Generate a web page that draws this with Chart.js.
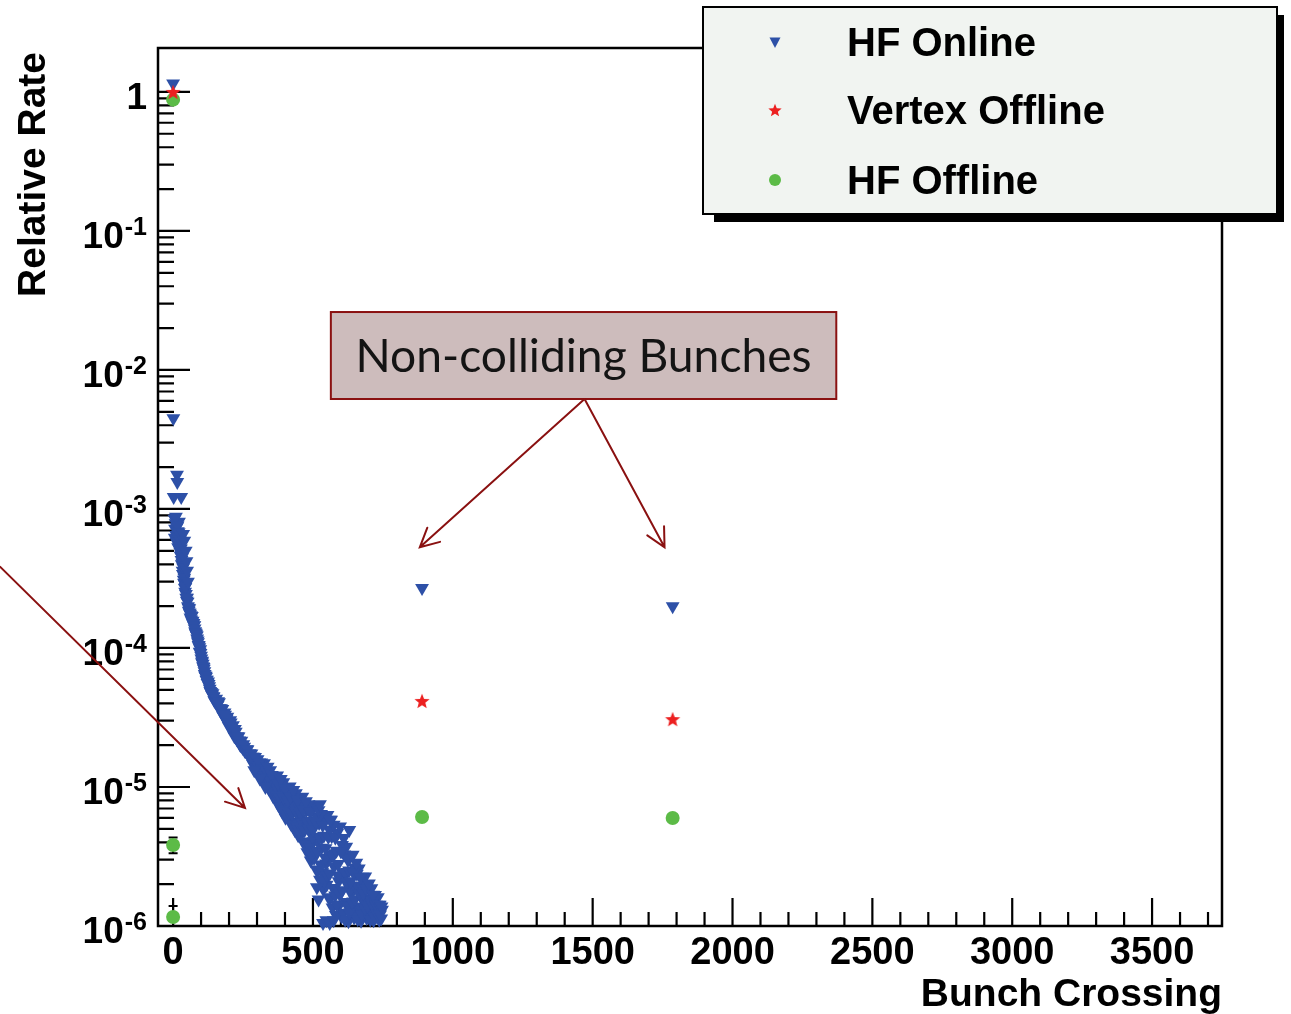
<!DOCTYPE html>
<html>
<head>
<meta charset="utf-8">
<script src="https://cdn.jsdelivr.net/npm/chart.js@4/dist/chart.umd.min.js"></script>
<style>
  html, body { margin: 0; padding: 0; background: #fff; }
  #wrap { width: 1291px; height: 1014px; }
  canvas { display: block; }
</style>
</head>
<body>
<div id="wrap"><canvas id="chart" width="1291" height="1014" style="width:1291px;height:1014px"></canvas></div>
<script>
// ---- axis ranges and tick labels ----
const xRange = [-54, 3750];
const yRange = [1e-6, 2.07];
const xMajorTicks = [0, 500, 1000, 1500, 2000, 2500, 3000, 3500];
const xTickLabels = ['0', '500', '1000', '1500', '2000', '2500', '3000', '3500'];
const xMinorTicks = [100,200,300,400,600,700,800,900,1100,1200,1300,1400,1600,1700,1800,1900,
                     2100,2200,2300,2400,2600,2700,2800,2900,3100,3200,3300,3400,3600,3700];
const yDecades = [1e-6, 1e-5, 1e-4, 1e-3, 1e-2, 1e-1, 1];
const yTickExponents = ['-6', '-5', '-4', '-3', '-2', '-1', null];
const xTitle = 'Bunch Crossing';
const yTitle = 'Relative Rate';
const seriesNames = ['HF Online', 'Vertex Offline', 'HF Offline'];

// ---- series: [bunch crossing, relative rate] ----
const hfOnline = [
  [0,1.15],[1,4.5e-3],[2,1.22e-3],[14,1.76e-3],[15,1.56e-3],[21,8.1e-4],[29,1.22e-3],
  [5,8.5e-4],[7,7.2e-4],[9,7.9e-4],[11,6.5e-4],[13,7.4e-4],[15,6.2e-4],[17,6.9e-4],[19,5.6e-4],
  [21,6.2e-4],[23,5.1e-4],[25,5.5e-4],[27,4.6e-4],[29,4.7e-4],[31,4.0e-4],[33,4.1e-4],[35,3.4e-4],
  [37,3.4e-4],[39,2.95e-4],[41,2.9e-4],[43,2.54e-4],[46,2.45e-4],[49,2.19e-4],[52,2.15e-4],
  [55,1.95e-4],[58,1.93e-4],[61,1.76e-4],[64,1.72e-4],[67,1.70e-4],[70,1.57e-4],[73,1.51e-4],
  [76,1.46e-4],[79,1.32e-4],[82,1.27e-4],[85,1.23e-4],[88,1.13e-4],[91,1.05e-4],[94,1.01e-4],
  [97,9.8e-5],[100,8.8e-5],[103,7.9e-5],[106,7.7e-5],[109,7.3e-5],[112,6.8e-5],[115,6.3e-5],
  [118,6.2e-5],[121,5.9e-5],[125,5.75e-5],[129,5.3e-5],[133,4.9e-5],[137,4.8e-5],[141,4.73e-5],
  [145,4.47e-5],[149,4.27e-5],
  [6,6.2e-4],[10,8.8e-4],[12,5.8e-4],[16,7.6e-4],[18,5.3e-4],[20,6.8e-4],[22,5.5e-4],[24,6.0e-4],
  [26,4.9e-4],[28,5.2e-4],[30,4.3e-4],[32,4.5e-4],[34,3.6e-4],[36,3.8e-4],[38,3.1e-4],[40,3.2e-4],
  [42,2.7e-4],[44,2.75e-4],[47,2.3e-4],[50,2.3e-4],[53,2.0e-4],[56,1.85e-4],[59,1.80e-4],[62,1.66e-4],
  [65,1.60e-4],[68,1.55e-4],[71,1.50e-4],[74,1.45e-4],[77,1.38e-4],[80,1.29e-4],[83,1.25e-4],
  [86,1.17e-4],[89,1.10e-4],[92,1.04e-4],[95,9.4e-5],[98,9.2e-5],[101,8.4e-5],[104,8.1e-5],
  [107,7.4e-5],[110,7.1e-5],[113,6.5e-5],[116,6.3e-5],[119,5.9e-5],[123,5.6e-5],[127,5.5e-5],
  [131,5.1e-5],[135,4.8e-5],[139,4.6e-5],[143,4.5e-5],[147,4.2e-5],[151,4.1e-5],
  [36,6.6e-4],[40,5.9e-4],[45,5.0e-4],[48,4.2e-4],[50,3.6e-4],[53,3.0e-4],
  [154,4.32e-5],[159,3.89e-5],[164,4.07e-5],[169,3.55e-5],[174,3.63e-5],[179,3.25e-5],[184,3.43e-5],
  [189,3.02e-5],[194,3.20e-5],[199,2.74e-5],[204,3.02e-5],[209,2.58e-5],[214,2.78e-5],[219,2.32e-5],
  [224,2.50e-5],[229,2.19e-5],[234,2.31e-5],[239,2.03e-5],[244,2.15e-5],[249,1.91e-5],[254,1.95e-5],
  [259,1.81e-5],[264,1.87e-5],[269,1.69e-5],[274,1.75e-5],
  [156,4.08e-5],[161,4.14e-5],[166,3.68e-5],[171,3.69e-5],[176,3.64e-5],[181,3.26e-5],[186,3.31e-5],
  [191,3.09e-5],[196,2.88e-5],[201,2.82e-5],[206,2.91e-5],[211,2.52e-5],[216,2.59e-5],[221,2.61e-5],
  [226,2.25e-5],[231,2.32e-5],[236,2.16e-5],[241,2.00e-5],[246,1.98e-5],[251,2.03e-5],[256,1.82e-5],
  [261,1.85e-5],[266,1.86e-5],[271,1.69e-5],[276,1.73e-5],
  [280,1.74e-5],[285,1.47e-5],[290,1.55e-5],[295,1.57e-5],[300,1.37e-5],[305,1.46e-5],[310,1.22e-5],
  [315,1.50e-5],[320,1.28e-5],[325,1.48e-5],[330,1.08e-5],[335,1.23e-5],[340,1.30e-5],[345,1.04e-5],
  [350,1.16e-5],[357,8.6e-6],[362,1.20e-5],[367,9.4e-6],[372,1.21e-5],[377,7.4e-6],[382,9.2e-6],
  [387,1.03e-5],[392,7.4e-6],[397,9.0e-6],[402,6.0e-6],[407,9.9e-6],[412,7.1e-6],[417,1.01e-5],
  [422,5.4e-6],[427,7.2e-6],[432,8.4e-6],[437,5.6e-6],[442,7.2e-6],[447,4.5e-6],[452,8.3e-6],
  [457,5.6e-6],[462,8.5e-6],[467,3.95e-6],[472,5.7e-6],[477,6.8e-6],[482,4.06e-6],[487,5.7e-6],
  [492,2.96e-6],[497,6.9e-6],[502,4.07e-6],[507,7.4e-6],[512,2.55e-6],[517,4.28e-6],[522,5.5e-6],
  [527,2.77e-6],[532,4.35e-6],[537,1.84e-6],[542,5.7e-6],[547,2.82e-6],[552,6.3e-6],[557,1.59e-6],
  [562,3.15e-6],[567,4.42e-6],[572,1.88e-6],[577,3.34e-6],[582,1.20e-6],[587,4.68e-6],[592,2.10e-6],
  [597,5.2e-6],[602,1.17e-6],[607,2.40e-6],[612,3.27e-6],[617,1.49e-6],[622,2.45e-6],[627,1.08e-6],
  [630,4.9e-6],[632,3.13e-6],[637,1.71e-6],[642,3.25e-6],[647,1.15e-6],[652,1.91e-6],[657,2.38e-6],
  [662,1.38e-6],[667,1.95e-6],[672,1.09e-6],[677,2.26e-6],[682,1.49e-6],[687,2.27e-6],[692,1.14e-6],
  [697,1.57e-6],[702,1.79e-6],[707,1.27e-6],[712,1.56e-6],[717,1.10e-6],[722,1.67e-6],[727,1.30e-6],
  [732,1.61e-6],[737,1.11e-6],[742,1.28e-6],[747,1.31e-6],
  [282,1.56e-5],[287,1.65e-5],[292,1.41e-5],[297,1.50e-5],[302,1.58e-5],[307,1.31e-5],[312,1.44e-5],
  [317,1.32e-5],[322,1.18e-5],[327,1.19e-5],[332,1.37e-5],[337,1.04e-5],[342,1.20e-5],[347,1.32e-5],
  [352,9.6e-6],[359,1.12e-5],[364,9.8e-6],[369,8.3e-6],[374,8.6e-6],[379,1.09e-5],[384,7.2e-6],
  [389,9.1e-6],[394,1.08e-5],[399,6.9e-6],[404,8.9e-6],[409,7.5e-6],[414,6.0e-6],[419,6.4e-6],
  [424,8.9e-6],[429,5.35e-6],[434,7.2e-6],[439,9.0e-6],[444,5.2e-6],[449,7.3e-6],[454,5.9e-6],
  [459,4.6e-6],[464,4.9e-6],[469,7.3e-6],[474,3.84e-6],[479,5.65e-6],[484,7.5e-6],[489,3.68e-6],
  [494,5.7e-6],[499,4.38e-6],[504,3.09e-6],[509,3.45e-6],[514,6.1e-6],[519,2.51e-6],[524,4.32e-6],
  [529,6.4e-6],[534,2.44e-6],[539,4.45e-6],[544,3.10e-6],[549,1.98e-6],[554,2.33e-6],[559,4.92e-6],
  [564,1.61e-6],[569,3.24e-6],[574,5.36e-6],[579,1.66e-6],[584,3.48e-6],[589,2.31e-6],[594,1.41e-6],
  [599,1.73e-6],[604,3.82e-6],[609,1.24e-6],[614,2.44e-6],[619,3.72e-6],[624,1.38e-6],[629,2.51e-6],
  [634,1.83e-6],[639,1.29e-6],[644,1.50e-6],[649,2.63e-6],[654,1.21e-6],[659,1.94e-6],[664,2.59e-6],
  [669,1.30e-6],[674,1.95e-6],[679,1.56e-6],[684,1.23e-6],[689,1.36e-6],[694,1.94e-6],[699,1.17e-6],
  [704,1.57e-6],[709,1.87e-6],[714,1.22e-6],[719,1.55e-6],[724,1.35e-6],[729,1.17e-6],[734,1.22e-6],
  [739,1.42e-6],[744,1.13e-6],
  [283,1.65e-5],[288,1.51e-5],[293,1.64e-5],[298,1.33e-5],[303,1.43e-5],[308,1.50e-5],[313,1.24e-5],
  [318,1.36e-5],[323,1.21e-5],[328,1.36e-5],[333,1.17e-5],[338,1.40e-5],[343,9.7e-6],[348,1.11e-5],
  [353,1.22e-5],[360,8.8e-6],[365,1.03e-5],[370,8.7e-6],[375,1.06e-5],[380,8.45e-6],[385,1.14e-5],
  [390,6.7e-6],[395,8.4e-6],[400,9.8e-6],[405,6.3e-6],[410,8.0e-6],[415,6.5e-6],[420,8.5e-6],
  [425,6.4e-6],[430,9.5e-6],[435,4.9e-6],[440,6.6e-6],[445,8.05e-6],[450,4.82e-6],[455,6.5e-6],
  [460,4.99e-6],[465,6.9e-6],[470,4.88e-6],[475,7.9e-6],[480,3.39e-6],[485,4.99e-6],[490,6.6e-6],
  [495,3.27e-6],[500,4.93e-6],[505,3.48e-6],[510,5.6e-6],[515,3.46e-6],[520,6.8e-6],[525,2.15e-6],
  [530,3.66e-6],[535,5.3e-6],[540,2.09e-6],[545,3.63e-6],[550,2.32e-6],[555,4.36e-6],[560,2.39e-6],
  [565,5.8e-6],[570,1.36e-6],[575,2.69e-6],[580,4.31e-6],[585,1.43e-6],[590,2.79e-6],[595,1.70e-6],
  [600,3.43e-6],[605,1.81e-6],[610,4.29e-6],[615,1.11e-6],[620,2.04e-6],[625,2.99e-6],[630,1.25e-6],
  [635,2.10e-6],[640,1.48e-6],[645,2.42e-6],[650,1.56e-6],[655,2.85e-6],[660,1.12e-6],[665,1.72e-6],
  [670,2.23e-6],[675,1.21e-6],[680,1.72e-6],[685,1.35e-6],[690,1.86e-6],[695,1.39e-6],[700,2.02e-6],
  [705,1.11e-6],[710,1.45e-6],[715,1.68e-6],[720,1.16e-6],[725,1.42e-6],[730,1.22e-6],[735,1.42e-6],
  [740,1.21e-6],[745,1.38e-6],
  [514,1.9e-6],[520,1.55e-6],[536,1.05e-6],[548,1.1e-6],[560,1.05e-6],[574,1.1e-6],
  [525,7.5e-6],[561,5.8e-6],[290,1.32e-5],[310,1.15e-5],[330,1.0e-5],
  [890,2.70e-4],[1786,2.0e-4]
];
const vertexOffline = [[0,1.0],[890,4.16e-5],[1786,3.08e-5]];
const hfOffline = [[0,0.88],[0,3.83e-6],[0,1.16e-6],[890,6.09e-6],[1786,5.98e-6]];
const hfOfflineErr = [0, 0.5e-6, 0.23e-6, 0, 0];

// ---- callout in data units ----
const calloutText = 'Non-colliding Bunches';
const calloutBox = { x0: 564, x1: 2371, yTop: 0.0261, yBottom: 6.18e-3 };
const calloutArrows = [
  { from: [1471, 6.18e-3], to: [882, 5.3e-4] },
  { from: [1471, 6.18e-3], to: [1757, 5.3e-4] },
  { from: [-618, 3.83e-4], to: [257, 7.06e-6] }
];

const BLUE = '#2d50a7', RED = '#ec2020', GREEN = '#5cbb47', DARKRED = '#8a1111';
const BOLD = 'bold %spx "Liberation Sans", Arial, Helvetica, sans-serif';
const font = (s) => BOLD.replace('%s', s);

function makeStar(r, color) {
  const s = Math.ceil(r * 2 + 2);
  const c = document.createElement('canvas');
  c.width = s; c.height = s;
  const g = c.getContext('2d');
  g.fillStyle = color;
  g.beginPath();
  for (let i = 0; i < 10; i++) {
    const rad = i % 2 === 0 ? r : r * 0.43;
    const ang = -Math.PI / 2 + i * Math.PI / 5;
    const px = s / 2 + rad * Math.cos(ang), py = s / 2 + rad * Math.sin(ang) + r * 0.1;
    if (i === 0) g.moveTo(px, py); else g.lineTo(px, py);
  }
  g.closePath();
  g.fill();
  return c;
}
const starMark = makeStar(8, RED);
const starLegend = makeStar(7, RED);

const toXY = (arr) => arr.map(([x, y]) => ({ x, y }));

function drawArrow(ctx, x0, y0, x1, y1) {
  const ang = Math.atan2(y0 - y1, x0 - x1);
  const L = 21, spread = 27 * Math.PI / 180;
  ctx.beginPath();
  ctx.moveTo(x0, y0); ctx.lineTo(x1, y1);
  ctx.moveTo(x1 + L * Math.cos(ang - spread), y1 + L * Math.sin(ang - spread));
  ctx.lineTo(x1, y1);
  ctx.lineTo(x1 + L * Math.cos(ang + spread), y1 + L * Math.sin(ang + spread));
  ctx.stroke();
}

const axisPainter = {
  id: 'axisPainter',
  beforeDatasetsDraw(chart) {
    const { ctx, chartArea: a, scales: { x, y } } = chart;
    ctx.save();
    ctx.strokeStyle = '#000';
    ctx.lineWidth = 2.5;
    ctx.strokeRect(a.left, a.top, a.right - a.left, a.bottom - a.top);
    ctx.lineWidth = 2.2;
    ctx.beginPath();
    yDecades.forEach((d) => {
      const py = y.getPixelForValue(d);
      ctx.moveTo(a.left, py); ctx.lineTo(a.left + 32, py);
      if (d < 1) {
        for (let k = 2; k <= 9; k++) {
          const p = y.getPixelForValue(d * k);
          ctx.moveTo(a.left, p); ctx.lineTo(a.left + 16, p);
        }
      }
    });
    xMajorTicks.forEach((v) => {
      const px = x.getPixelForValue(v);
      ctx.moveTo(px, a.bottom); ctx.lineTo(px, a.bottom - 28);
    });
    xMinorTicks.forEach((v) => {
      const px = x.getPixelForValue(v);
      ctx.moveTo(px, a.bottom); ctx.lineTo(px, a.bottom - 14);
    });
    ctx.stroke();
    // error bars of the HF Offline points
    ctx.lineWidth = 2;
    ctx.beginPath();
    hfOffline.forEach(([bx, v], i) => {
      const e = hfOfflineErr[i];
      if (!e) return;
      const px = x.getPixelForValue(bx);
      const top = y.getPixelForValue(v + e);
      const bot = Math.min(a.bottom, y.getPixelForValue(Math.max(v - e, yRange[0])));
      ctx.moveTo(px, top); ctx.lineTo(px, bot);
      ctx.moveTo(px - 4.5, top); ctx.lineTo(px + 4.5, top);
      if (v - e > yRange[0]) { ctx.moveTo(px - 4.5, bot); ctx.lineTo(px + 4.5, bot); }
    });
    ctx.stroke();
    ctx.restore();
  },
  afterDatasetsDraw(chart) {
    const { ctx, chartArea: a, scales: { x, y } } = chart;
    ctx.save();
    ctx.fillStyle = '#000';
    // x tick labels
    ctx.font = font(38);
    ctx.textAlign = 'center';
    ctx.textBaseline = 'alphabetic';
    xMajorTicks.forEach((v, i) => ctx.fillText(xTickLabels[i], x.getPixelForValue(v), 964));
    // y tick labels: 10 with superscript exponent
    const right = 147;
    ctx.textAlign = 'left';
    yDecades.forEach((d, i) => {
      const py = y.getPixelForValue(d);
      const e = yTickExponents[i];
      if (e === null) {
        ctx.font = font(37);
        const w = ctx.measureText('1').width;
        ctx.fillText('1', right - w, py + 17);
        return;
      }
      ctx.font = font(25);
      const ws = ctx.measureText(e).width + 1;
      ctx.fillText(e, right - ws + 1, py + 4);
      ctx.font = font(37);
      const wb = ctx.measureText('10').width;
      ctx.fillText('10', right - ws - wb, py + 17);
    });
    // axis titles
    ctx.font = font(39);
    ctx.textAlign = 'right';
    ctx.fillText(xTitle, a.right, 1006);
    ctx.translate(45, 52);
    ctx.rotate(-Math.PI / 2);
    ctx.fillText(yTitle, 0, 0);
    ctx.restore();
  },
  afterDraw(chart) {
    const { ctx, scales: { x, y } } = chart;
    ctx.save();
    // callout box
    const bx0 = x.getPixelForValue(calloutBox.x0), bx1 = x.getPixelForValue(calloutBox.x1);
    const by0 = y.getPixelForValue(calloutBox.yTop), by1 = y.getPixelForValue(calloutBox.yBottom);
    ctx.fillStyle = '#cdbcbc';
    ctx.fillRect(bx0, by0, bx1 - bx0, by1 - by0);
    ctx.strokeStyle = DARKRED;
    ctx.lineWidth = 2;
    ctx.strokeRect(bx0, by0, bx1 - bx0, by1 - by0);
    ctx.fillStyle = '#141414';
    ctx.font = '46px Lato, "Open Sans", sans-serif';
    const tw = ctx.measureText(calloutText).width;
    const size = 46 * 456 / tw;
    ctx.font = size.toFixed(1) + 'px Lato, "Open Sans", sans-serif';
    ctx.textAlign = 'center';
    ctx.textBaseline = 'alphabetic';
    ctx.fillText(calloutText, (bx0 + bx1) / 2, by0 + 60);
    // arrows
    ctx.strokeStyle = DARKRED;
    ctx.lineWidth = 2;
    ctx.lineCap = 'round';
    calloutArrows.forEach((ar) => {
      drawArrow(ctx, x.getPixelForValue(ar.from[0]), y.getPixelForValue(ar.from[1]),
                x.getPixelForValue(ar.to[0]), y.getPixelForValue(ar.to[1]));
    });
    // legend box with drop shadow
    const L = { x: 703, y: 7, w: 574, h: 207 };
    ctx.fillStyle = '#000';
    ctx.fillRect(L.x + 11, L.y + 8, L.w - 4, L.h);
    ctx.fillStyle = '#f1f4f1';
    ctx.fillRect(L.x, L.y, L.w, L.h);
    ctx.strokeStyle = '#000';
    ctx.lineWidth = 2;
    ctx.strokeRect(L.x, L.y, L.w, L.h);
    const rows = [42, 110, 180];
    const mx = 775;
    ctx.fillStyle = BLUE;
    ctx.beginPath();
    ctx.moveTo(mx - 5.5, rows[0] - 4.5); ctx.lineTo(mx + 5.5, rows[0] - 4.5); ctx.lineTo(mx, rows[0] + 6);
    ctx.closePath(); ctx.fill();
    ctx.drawImage(starLegend, mx - starLegend.width / 2, rows[1] - starLegend.height / 2);
    ctx.fillStyle = GREEN;
    ctx.beginPath(); ctx.arc(mx, rows[2], 6, 0, Math.PI * 2); ctx.fill();
    ctx.fillStyle = '#000';
    ctx.font = font(40);
    ctx.textAlign = 'left';
    ctx.textBaseline = 'alphabetic';
    seriesNames.forEach((n, i) => ctx.fillText(n, 847, rows[i] + 14));
    ctx.restore();
  }
};

new Chart(document.getElementById('chart'), {
  type: 'scatter',
  data: {
    datasets: [
      { label: seriesNames[1], data: toXY(vertexOffline), pointStyle: starMark, pointRadius: 8,
        backgroundColor: RED, borderWidth: 0, clip: false, order: 0 },
      { label: seriesNames[2], data: toXY(hfOffline), pointStyle: 'circle', pointRadius: 7,
        backgroundColor: GREEN, borderColor: GREEN, borderWidth: 0, clip: false, order: 1 },
      { label: seriesNames[0], data: toXY(hfOnline), pointStyle: 'triangle', pointRotation: 180,
        pointRadius: 8, backgroundColor: BLUE, borderColor: BLUE, borderWidth: 0, clip: false, order: 2 }
    ]
  },
  options: {
    responsive: false,
    animation: false,
    devicePixelRatio: 1,
    events: [],
    layout: { padding: { left: 158, right: 69, top: 48, bottom: 88 } },
    plugins: { legend: { display: false }, tooltip: { enabled: false } },
    scales: {
      x: { type: 'linear', min: xRange[0], max: xRange[1], display: false },
      y: { type: 'logarithmic', min: yRange[0], max: yRange[1], display: false }
    }
  },
  plugins: [axisPainter]
});
</script>
</body>
</html>
